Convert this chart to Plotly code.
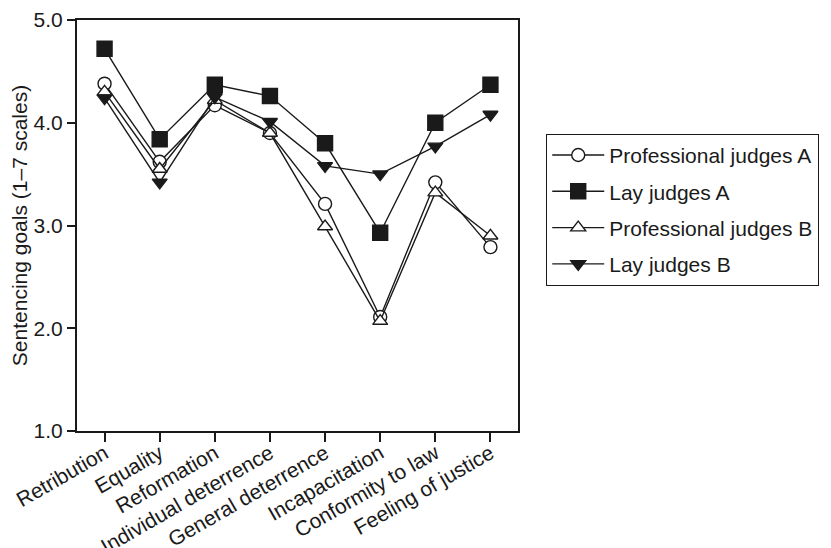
import plotly.graph_objects as go

categories = ["Retribution", "Equality", "Reformation", "Individual deterrence",
              "General deterrence", "Incapacitation", "Conformity to law", "Feeling of justice"]
prof_a = [4.38, 3.62, 4.17, 3.90, 3.21, 2.11, 3.42, 2.79]
lay_a = [4.72, 3.84, 4.37, 4.26, 3.80, 2.93, 4.00, 4.37]
prof_b = [4.30, 3.55, 4.22, 3.90, 2.99, 2.07, 3.32, 2.90]
lay_b = [4.24, 3.42, 4.25, 4.01, 3.58, 3.50, 3.77, 4.08]
y_ticks = [1.0, 2.0, 3.0, 4.0, 5.0]

INK = "#1a1a1a"
series = [
    ("Professional judges A", prof_a, "circle", 13, "white"),
    ("Lay judges A", lay_a, "square", 15, INK),
    ("Professional judges B", prof_b, "triangle-up", 13, "white"),
    ("Lay judges B", lay_b, "triangle-down", 13, INK),
]

fig = go.Figure()
xs = list(range(len(categories)))
for i, (name, vals, sym, sz, fill) in enumerate(series):
    fig.add_trace(go.Scatter(
        x=xs, y=vals, name=name, mode="lines+markers", legendgroup=f"g{i}",
        line=dict(color=INK, width=1.4),
        marker=dict(symbol=sym, size=sz, color=fill, line=dict(color=INK, width=1.4)),
    ))

# page body has an 8px default margin; compensate so the plot area sits where the reference's does
fig.update_layout(
    width=831, height=548,
    margin=dict(l=69, r=321, t=12, b=125),
    paper_bgcolor="white", plot_bgcolor="white",
    font=dict(family="Liberation Sans, Arial, sans-serif", size=21, color=INK),
    showlegend=True,
    legend=dict(x=1.064, xanchor="left", y=0.723, yanchor="top",
                bordercolor=INK, borderwidth=1, bgcolor="white",
                font=dict(size=21), tracegroupgap=6, itemwidth=52),
)
fig.update_xaxes(
    range=[-0.5, 7.5], tickmode="array", tickvals=xs, ticktext=categories,
    tickangle=-30, ticks="outside", ticklen=9, tickcolor=INK, tickwidth=1.5,
    ticklabelstandoff=-9,
    showline=True, linecolor=INK, linewidth=2, mirror=True,
    showgrid=False, zeroline=False, automargin=False,
)
fig.update_yaxes(
    range=[1.0, 5.0], tickmode="array", tickvals=y_ticks,
    ticktext=[f"{v:.1f}" for v in y_ticks],
    ticks="outside", ticklen=8, tickcolor=INK, tickwidth=1.5,
    showline=True, linecolor=INK, linewidth=2, mirror=True,
    showgrid=False, zeroline=False, automargin=False,
    title=dict(text="Sentencing goals (1–7 scales)", font=dict(size=21), standoff=3),
)
fig.write_html("out.html")
